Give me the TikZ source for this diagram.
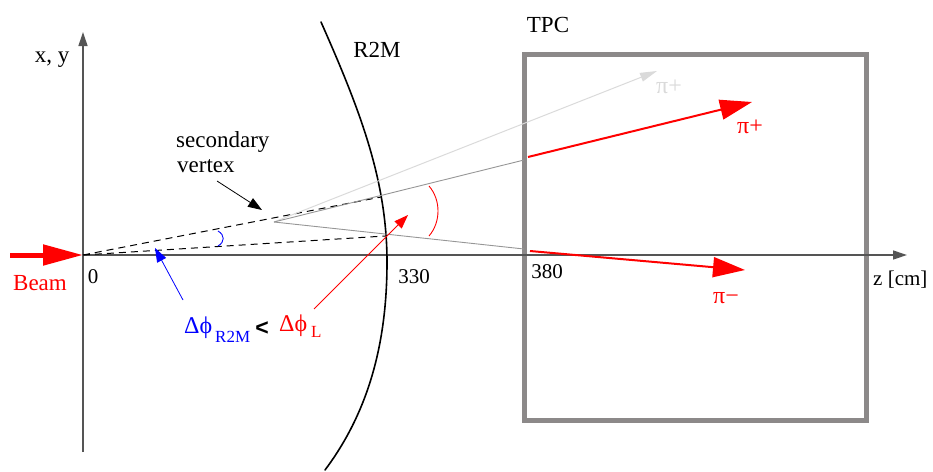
\documentclass[tikz,border=0pt]{standalone}
\usepackage{fontspec}
\setmainfont{Liberation Serif}
\newfontfamily\sansf{Liberation Sans}
\usetikzlibrary{arrows.meta}
\definecolor{boxgray}{RGB}{140,137,137}
\definecolor{axisgray}{RGB}{85,85,85}
\definecolor{palegray}{RGB}{218,218,218}
\definecolor{midgray}{RGB}{150,150,150}
\definecolor{myred}{RGB}{255,0,0}
\definecolor{myblue}{RGB}{0,0,255}
\begin{document}
\begin{tikzpicture}[x=1pt,y=-1pt,
  txt/.style={inner sep=0pt, font=\fontsize{23}{26}\selectfont},
  num/.style={inner sep=0pt, font=\fontsize{21}{24}\selectfont},
  grk/.style={inner sep=0pt, font=\fontsize{24}{27}\selectfont},
  sub/.style={inner sep=0pt, font=\fontsize{17}{20}\selectfont},
  axis/.style={draw=axisgray, line width=1.3pt, -{Triangle[length=14pt,width=9pt]}},
  bigred/.style={draw=myred, line width=2pt, -{Triangle[length=32pt,width=20pt]}},
  thinarrow/.style={line width=0.8pt, -{Triangle[length=14pt,width=10pt]}},
  dashline/.style={line width=1pt, dash pattern=on 7pt off 5pt}]
\useasboundingbox (0,0) rectangle (933,471);
% coordinates
\coordinate (O) at (83,255);
\coordinate (ytip) at (83,32);
\coordinate (ybot) at (83,452);
\coordinate (ztip) at (907,255);
\coordinate (V) at (274,222);
\coordinate (Rup) at (381,197);
\coordinate (Rlow) at (385,236);
\coordinate (Tup) at (524,160);
\coordinate (Tlow) at (524,249);
\coordinate (lightTip) at (657,71);
% TPC box
\draw[boxgray, line width=5pt] (524,54.5) rectangle (866,420.5);
% axes
\draw[axis] (ybot) -- (ytip);
\draw[axis] (O) -- (ztip);
% beam
\coordinate (beamS) at (10,255);
\draw[draw=myred, line width=5pt, -{Triangle[length=40pt,width=20pt]}] (beamS) -- (O);
% R2M curve
\coordinate (r2mA) at (321,22);
\coordinate (r2mB) at (387,262);
\coordinate (r2mC) at (325,470);
\draw[line width=1.6pt, line cap=round] (r2mA) .. controls (360,110) and (387,180) .. (r2mB) .. controls (387,340) and (370,410) .. (r2mC);
% dashed extrapolations
\draw[dashline] (O) -- (Rup);
\draw[dashline] (O) -- (Rlow);
% gray tracks from vertex
\draw[palegray, line width=1pt, -{Triangle[length=17pt,width=9pt]}] (V) -- (lightTip);
\draw[midgray, line width=0.9pt] (V) -- (Tup);
\draw[midgray, line width=0.9pt] (V) -- (Tlow);
% red tracks in TPC
\coordinate (pipS) at (528,157);
\coordinate (pipT) at (752,102);
\coordinate (pimS) at (530,251);
\coordinate (pimT) at (745,270);
\draw[bigred] (pipS) -- (pipT);
\draw[bigred] (pimS) -- (pimT);
% angle arcs
\coordinate (raA) at (429,186);
\coordinate (raB) at (429,236);
\draw[myred, line width=0.9pt] (raA) .. controls (441,200) and (441,222) .. (raB);
\coordinate (baA) at (218,231);
\coordinate (baB) at (218,246);
\draw[myblue, line width=0.9pt] (baA) .. controls (225,235) and (225,242) .. (baB);
% labels
\node[txt, anchor=base] (xy) at (52,62) {x, y};
\node[txt, anchor=base] (r2m) at (377,57) {R2M};
\node[txt, anchor=base] (tpc) at (548,32) {TPC};
\node[txt, anchor=base west] (sec) at (176,147) {secondary};
\node[txt, anchor=base west] (vtx) at (177,172) {vertex};
\node[txt, anchor=base, text=myred] (beam) at (40,290) {Beam};
\node[num, anchor=base] (n0) at (93,283) {0};
\node[num, anchor=base] (n330) at (414,283) {330};
\node[num, anchor=base] (n380) at (547,278) {380};
\node[num, anchor=base west] (zcm) at (873,285) {z [cm]};
\node[grk, anchor=base, text=palegray] (pil) at (669,93) {π+};
\node[grk, anchor=base, text=myred] (pip) at (750,133) {π+};
\node[grk, anchor=base, text=myred] (pim) at (726,303) {π−};
\node[grk, anchor=base west, text=myblue] (dphiB) at (184,333) {Δϕ};
\node[sub, anchor=base west, text=myblue] (subB) at (215,342) {R2M};
\node[inner sep=0pt, font=\sansf\bfseries\fontsize{23}{25}\selectfont] (lt) at (262,329) {<};
\node[grk, anchor=base west, text=myred] (dphiR) at (279,331) {Δϕ};
\node[sub, anchor=base west, text=myred] (subR) at (311,337) {L};
% pointer arrows
\coordinate (secS) at (217,181);
\coordinate (secT) at (262,210);
\draw[thinarrow] (secS) -- (secT);
\coordinate (blS) at (183,300);
\coordinate (blT) at (155,248);
\draw[thinarrow, myblue] (blS) -- (blT);
\coordinate (rdS) at (314,309);
\coordinate (rdT) at (408,215);
\draw[thinarrow, myred] (rdS) -- (rdT);
\end{tikzpicture}
\end{document}
